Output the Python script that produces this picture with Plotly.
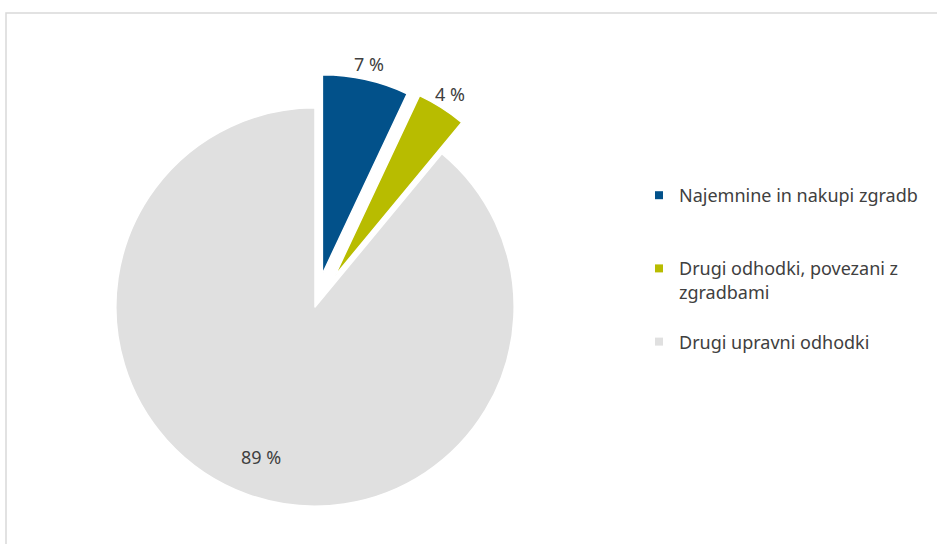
import math
import plotly.graph_objects as go

categories = ["Najemnine in nakupi zgradb", "Drugi odhodki, povezani z zgradbami", "Drugi upravni odhodki"]
legend_labels = ["Najemnine in nakupi zgradb<br> <br> ", "Drugi odhodki, povezani z<br>zgradbami<br> ", "Drugi upravni odhodki"]
values = [7, 4, 89]
label_texts = ["7 %", "4 %", "89 %"]
colors = ["#02518A", "#B8BC00", "#E0E0E0"]
pulls = [0.17, 0.185, 0.0]

W, H = 937, 544
cx, cy = 315, 307      # pie centre in page pixels
R = 236                # half size of the pie box

fig = go.Figure()
fig.add_trace(go.Pie(
    labels=categories,
    values=values,
    sort=False,
    direction="clockwise",
    rotation=0,
    pull=pulls,
    marker=dict(colors=colors, line=dict(color="white", width=1.5)),
    textinfo="none",
    showlegend=False,
    hoverinfo="label+value",
    domain=dict(x=[(cx - R) / W, (cx + R) / W], y=[(H - cy - R) / H, (H - cy + R) / H]),
))

# value labels placed from the slice angles
r = R / (1 + max(pulls))
total = sum(values)
cum = 0
annotations = []
for v, t, p in zip(values, label_texts, pulls):
    mid = (cum + v / 2) / total * 2 * math.pi
    cum += v
    if p > 0:
        dist = r * (1 + p) + 16
    else:
        dist = r * 0.8
    px = cx + dist * math.sin(mid)
    py = cy - dist * math.cos(mid)
    annotations.append(dict(
        x=px / W, y=1 - py / H, xref="paper", yref="paper",
        text=t, showarrow=False, xanchor="center", yanchor="middle",
        font=dict(family="Noto Sans", size=18, color="#404040"),
    ))

for lab, col in zip(legend_labels, colors):
    fig.add_trace(go.Scatter(
        x=[None], y=[None], mode="markers", name=lab,
        marker=dict(symbol="square", size=8, color=col),
        legendgroup=lab, showlegend=True,
    ))

fig.update_layout(
    width=W, height=H, autosize=False,
    margin=dict(l=0, r=0, t=0, b=0, pad=0, autoexpand=False),
    paper_bgcolor="white", plot_bgcolor="white",
    xaxis=dict(visible=False), yaxis=dict(visible=False),
    annotations=annotations,
    legend=dict(
        x=639 / W, y=1 - 177 / H, xanchor="left", yanchor="top",
        font=dict(family="Noto Sans", size=18, color="#404040"),
        valign="top", tracegroupgap=0, itemwidth=30,
        bgcolor="rgba(0,0,0,0)",
    ),
    shapes=[dict(type="rect", xref="paper", yref="paper",
                 x0=6 / W, y0=-0.1, x1=1.1, y1=1 - 13 / H,
                 line=dict(color="#D9D9D9", width=1.5), layer="below")],
)

fig.write_html("out.html", config={"displayModeBar": False},
               post_script="document.body.style.margin='0px';")
